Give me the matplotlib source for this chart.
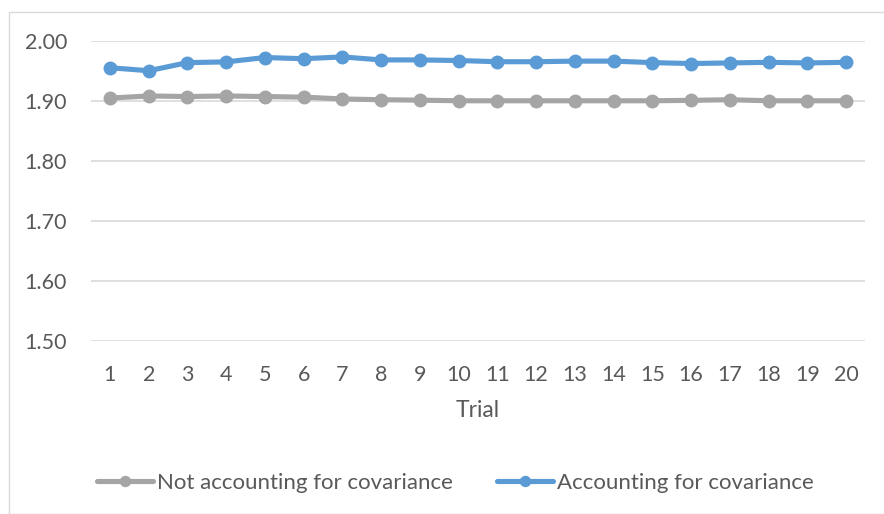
import matplotlib
matplotlib.use("Agg")
import matplotlib.pyplot as plt
from matplotlib.patches import Rectangle

plt.rcParams['font.family'] = ['Lato', 'DejaVu Sans']

trials = list(range(1, 21))
not_accounting = [1.9045, 1.908, 1.907, 1.908, 1.907, 1.906, 1.903, 1.9017, 1.901, 1.900,
                  1.900, 1.900, 1.900, 1.900, 1.900, 1.9007, 1.9017, 1.900, 1.900, 1.900]
accounting = [1.955, 1.950, 1.9635, 1.9647, 1.972, 1.970, 1.973, 1.968, 1.968, 1.967,
              1.965, 1.965, 1.966, 1.966, 1.9635, 1.962, 1.963, 1.964, 1.963, 1.964]
y_ticks = [1.50, 1.60, 1.70, 1.80, 1.90, 2.00]

GRAY = '#A5A5A5'
BLUE = '#5B9BD5'
TEXT = '#595959'
GRID = '#D9D9D9'

W, H = 884, 514
fig = plt.figure(figsize=(W / 100, H / 100), dpi=100)

# chart frame
fig.patches.append(Rectangle((9 / W, 0), 1, 1 - 12 / H, transform=fig.transFigure,
                             fill=False, edgecolor=GRID, linewidth=1.0))

ax = fig.add_axes([90.6 / W, 1 - 341 / H, (865.4 - 90.6) / W, (341 - 40.7) / H])

ax.plot(trials, not_accounting, color=GRAY, linewidth=3.7, marker='o', markersize=9,
        solid_capstyle='round', label='Not accounting for covariance', zorder=3)
ax.plot(trials, accounting, color=BLUE, linewidth=3.7, marker='o', markersize=9,
        solid_capstyle='round', label='Accounting for covariance', zorder=3)

ax.set_xlim(0.5, 20.5)
ax.set_ylim(1.50, 2.00)
ax.set_yticks(y_ticks)
ax.set_yticklabels([f'{v:.2f}' for v in y_ticks])
ax.set_xticks(trials)
ax.set_xticklabels([str(t) for t in trials])

ax.grid(axis='y', color=GRID, linewidth=1.2)
ax.set_axisbelow(True)
for s in ax.spines.values():
    s.set_visible(False)
ax.tick_params(axis='both', length=0, labelsize=15.5, labelcolor=TEXT)
ax.tick_params(axis='y', pad=17)
ax.tick_params(axis='x', pad=17)
ax.set_xlabel('Trial', fontsize=16.5, color=TEXT, labelpad=11)

leg = fig.legend(loc='center', bbox_to_anchor=(0.5153, 1 - 483 / H), ncol=2, frameon=False,
                 fontsize=16, labelcolor=TEXT, handlelength=2.5, handletextpad=0.18,
                 columnspacing=2.0, markerscale=0.8)

fig.savefig('out.png', dpi=100)
